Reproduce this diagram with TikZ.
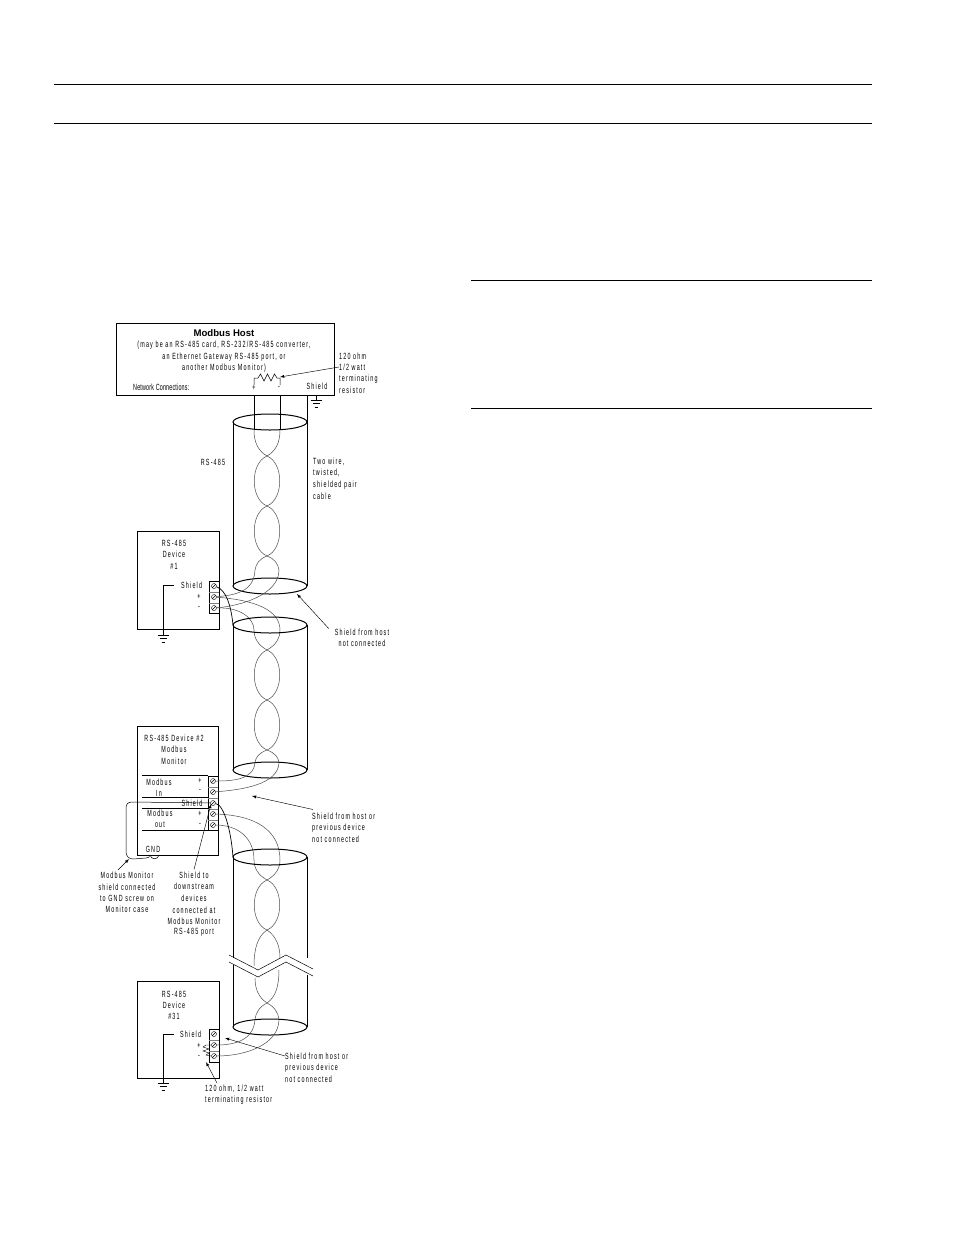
\documentclass[tikz,border=0pt]{standalone}
\usepackage{fontspec}
\setmainfont{Liberation Sans}[LetterSpace=13,FakeStretch=0.6]
\usetikzlibrary{arrows,calc}

\tikzset{
	box/.style={draw,line width=1pt,rectangle,outer sep=0pt,inner sep=0pt},
	txt/.style={inner sep=0pt,font=\fontsize{9}{10}\selectfont},
	ltxt/.style={txt,anchor=west},
	screw/.style={draw,circle,line width=0.4pt,inner sep=0pt,minimum size=5pt,
		path picture={\draw[line width=0.4pt] (path picture bounding box.south west) -- (path picture bounding box.north east);}},
	wire/.style={line width=0.5pt,black!70},
	hard/.style={line width=1pt},
	callout/.style={line width=0.45pt,-latex},
	rule/.style={line width=0.8pt}
}

% ground symbol at the end of a line
\newcommand{\gnd}[2]{
	\draw[line width=0.7pt] (#1-5.5,#2) -- (#1+5.5,#2);
	\draw[line width=0.7pt] (#1-3.5,#2+3.5) -- (#1+3.5,#2+3.5);
	\draw[line width=0.7pt] (#1-1.5,#2+7) -- (#1+1.5,#2+7);
}
% one twist of the pair
\newcommand{\twist}[2]{
	\draw[wire] (267,#1) .. controls (250,#1+7) and (250,#2-7) .. (267,#2);
	\draw[wire] (267,#1) .. controls (284,#1+7) and (284,#2-7) .. (267,#2);
}

\begin{document}
\begin{tikzpicture}[x=1pt,y=-1pt]
	\useasboundingbox (0,0) rectangle (954,1235);
	\fill[white] (0,0) rectangle (954,1235);

	\draw[rule] (54,84.5) -- (872,84.5);
	\draw[rule] (54,123.5) -- (872,123.5);
	\draw[rule] (471,280.5) -- (872,280.5);
	\draw[rule] (471,408.5) -- (872,408.5);

	% host
	\node[box,minimum width=218pt,minimum height=72pt] (host) at (225.5,359) {};
	\node[txt,font=\fontsize{9.6}{11}\bfseries\selectfont\addfontfeature{LetterSpace=0,FakeStretch=1}] (hosttitle) at (224,333) {Modbus Host};
	\node[txt] (hostline1) at (224,345) {(may be an RS-485 card, RS-232/RS-485 converter,};
	\node[txt] (hostline2) at (224,357) {an Ethernet Gateway RS-485 port, or};
	\node[txt] (hostline3) at (224,368) {another Modbus Monitor)};
	\node[ltxt,font=\fontsize{9}{10}\selectfont\addfontfeature{LetterSpace=2}] (netconn) at (133,387) {Network Connections:};
	\node[txt] (hostplus) at (254,388) {+};
	\node[txt] (hostminus) at (279,388) {-};
	\node[txt] (hostshield) at (317,386) {Shield};
	\coordinate (hostres) at (280,377);
	\draw[line width=0.5pt] (254,385) -- (254,378) -- (258,378) -- (260.5,374) -- (264,381) -- (267.5,374) -- (271,381) -- (274.5,374) -- (277,378) -- (280,378) -- (280,385);
	\draw[hard] (254,395) -- (254,430);
	\draw[hard] (280,395) -- (280,430);
	\draw[hard] (316,395) -- (316,400);
	\gnd{316}{400}
	\node[ltxt] (res1) at (339,356) {120 ohm};
	\node[ltxt] (res2) at (339,367) {1/2 watt};
	\node[ltxt] (res3) at (339,379) {terminating};
	\node[ltxt] (res4) at (339,390) {resistor};
	\draw[callout] (res2.west) -- (hostres);

	% first cable
	\draw[hard] (270,422) ellipse (37 and 8);
	\draw[hard] (233,422) -- (233,586);
	\draw[hard] (307,395) -- (307,586);
	\draw[hard] (270,586) ellipse (37 and 8);
	\draw[wire] (254,430) .. controls (254,442) and (258,451) .. (267,456);
	\draw[wire] (280,430) .. controls (280,442) and (276,451) .. (267,456);
	\twist{456}{506}
	\twist{506}{556}
	\node[txt] (rs) at (213,462) {RS-485};
	\node[ltxt] (cable1) at (313,462) {Two wire,};
	\node[ltxt] (cable2) at (313,473) {twisted,};
	\node[ltxt] (cable3) at (313,485) {shielded pair};
	\node[ltxt] (cable4) at (313,496) {cable};

	% device 1
	\node[box,minimum width=82pt,minimum height=98pt] (dev1) at (178,580) {};
	\node[txt] (dev1a) at (174,543) {RS-485};
	\node[txt] (dev1b) at (174,554) {Device};
	\node[txt] (dev1c) at (174,566) {\#1};
	\node[ltxt] (dev1s) at (181,585) {Shield};
	\node[txt] (dev1p) at (199,597) {+};
	\node[txt] (dev1m) at (199,608) {-};
	\node[box,minimum width=10pt,minimum height=32pt] (dev1block) at (214,597) {};
	\draw[line width=0.4pt,black!50] (209,592) -- (219,592) (209,603) -- (219,603);
	\node[screw] (t1s) at (214,586) {};
	\node[screw] (t1p) at (214,597) {};
	\node[screw] (t1m) at (214,608) {};
	\draw[line width=0.8pt] (dev1s.west) ++(-7,0) -- (163,585) -- (163,635);
	\gnd{163}{635}
	\draw[wire] (t1p) .. controls (235,595) and (254,592) .. (255,570) .. controls (256,564) and (259,559) .. (267,556);
	\draw[wire] (t1m) .. controls (240,606) and (279,595) .. (279,570) .. controls (278,564) and (275,559) .. (267,556);
	\draw[wire] (t1p) .. controls (255,600) and (280,610) .. (280,630) .. controls (280,638) and (276,645) .. (267,650);
	\draw[wire] (t1m) .. controls (240,607) and (254,618) .. (254,630) .. controls (254,638) and (258,645) .. (267,650);
	\draw[line width=0.7pt] (t1s) .. controls (226,590) and (231,605) .. (233,625);
	\node[txt] (nc1a) at (362,632) {Shield from host};
	\node[txt] (nc1b) at (362,643) {not connected};
	\coordinate (nc1tip) at (297,594);
	\draw[callout] (nc1a.north west) ++(-6,0) -- (nc1tip);

	% second cable
	\draw[hard] (270,625) ellipse (37 and 8);
	\draw[hard] (233,625) -- (233,770);
	\draw[hard] (307,625) -- (307,770);
	\draw[hard] (270,770) ellipse (37 and 8);
	\twist{650}{700}
	\twist{700}{750}

	% device 2
	\node[box,minimum width=81pt,minimum height=129pt] (dev2) at (177.5,790.5) {};
	\node[txt] (dev2a) at (174,738) {RS-485 Device \#2};
	\node[txt] (dev2b) at (174,749) {Modbus};
	\node[txt] (dev2c) at (174,761) {Monitor};
	\node[txt] (in1) at (159,782) {Modbus};
	\node[txt] (in2) at (159,793) {In};
	\node[txt] (dev2s) at (192,803) {Shield};
	\node[txt] (out1) at (160,813) {Modbus};
	\node[txt] (out2) at (160,825) {out};
	\node[txt] (inp) at (200,781) {+};
	\node[txt] (inm) at (200,791) {-};
	\node[txt] (outp) at (200,814) {+};
	\node[txt] (outm) at (200,825) {-};
	\node[txt] (gndtxt) at (153,849) {GND};
	\draw[line width=0.7pt] (142,775) -- (208,775) (142,797) -- (208,797) (142,808) -- (208,808) (142,830) -- (218,830);
	\node[box,minimum width=10pt,minimum height=54pt] (dev2block) at (213,803) {};
	\draw[line width=0.4pt,black!50] (208,787) -- (218,787) (208,798) -- (218,798) (208,809) -- (218,809) (208,820) -- (218,820);
	\node[screw] (t2a) at (213,781) {};
	\node[screw] (t2b) at (213,792) {};
	\node[screw] (t2s) at (213,803) {};
	\node[screw] (t2c) at (213,814) {};
	\node[screw] (t2d) at (213,825) {};
	\draw[wire] (t2a) .. controls (232,781) and (254,780) .. (255,762) .. controls (256,757) and (259,753) .. (267,750);
	\draw[wire] (t2b) .. controls (240,790) and (279,785) .. (279,762) .. controls (278,757) and (275,753) .. (267,750);
	\draw[wire] (t2c) .. controls (255,815) and (280,830) .. (280,860) .. controls (280,868) and (276,875) .. (267,880);
	\draw[wire] (t2d) .. controls (238,825) and (254,838) .. (254,860) .. controls (254,868) and (258,875) .. (267,880);
	\draw[line width=0.7pt] (t2s) .. controls (224,805) and (231,830) .. (233,857);
	% shield loop to the case screw
	\coordinate (gndscrew) at (150,855);
	\draw[line width=0.5pt] (t2s) -- (132,802) .. controls (128,802) and (126,804) .. (126,808) -- (126,852) .. controls (126,856) and (129,859) .. (133,859) -- (146,858) .. controls (148,858) and (150,857) .. (gndscrew) (150,855) .. controls (151,860) and (158,860) .. (159,855);
	\node[txt] (mon1) at (127,875) {Modbus Monitor};
	\node[txt] (mon2) at (127,887) {shield connected};
	\node[txt] (mon3) at (127,898) {to GND screw on};
	\node[txt] (mon4) at (127,909) {Monitor case};
	\coordinate (montail) at (118,870);
	\coordinate (monarrow) at (129,859);
	\draw[callout] (montail) -- (monarrow);
	\node[txt] (dn1) at (194,875) {Shield to};
	\node[txt] (dn2) at (194,886) {downstream};
	\node[txt] (dn3) at (194,898) {devices};
	\node[txt] (dn4) at (194,910) {connected at};
	\node[txt] (dn5) at (194,921) {Modbus Monitor};
	\node[txt] (dn6) at (194,932) {RS-485 port};
	\draw[callout] (dn1.north) ++(0,-2) -- (211,804);
	\node[ltxt] (nc2a) at (312,816) {Shield from host or};
	\node[ltxt] (nc2b) at (312,828) {previous device};
	\node[ltxt] (nc2c) at (312,839) {not connected};
	\coordinate (nc2tip) at (252,796);
	\draw[callout] (nc2a.north west) ++(1,-3) -- (nc2tip);

	% third cable with break
	\draw[hard] (270,857) ellipse (37 and 8);
	\draw[hard] (233,857) -- (233,958);
	\draw[hard] (307,857) -- (307,958);
	\draw[hard] (233,965) -- (233,1027);
	\draw[hard] (307,975) -- (307,1027);
	\twist{880}{930}
	\draw[wire] (267,930) .. controls (258,936) and (254,948) .. (254,966);
	\draw[wire] (267,930) .. controls (276,936) and (280,946) .. (280,958);
	\draw[line width=0.5pt] (229,955) -- (258,970) -- (286,955) -- (313,969);
	\draw[line width=0.5pt] (229,962) -- (258,977) -- (286,962) -- (313,976);
	\draw[wire] (255,978) .. controls (255,988) and (258,997) .. (267,1003);
	\draw[wire] (279,970) .. controls (279,985) and (276,997) .. (267,1003);
	\draw[hard] (270,1027) ellipse (37 and 8);

	% device 31
	\node[box,minimum width=82pt,minimum height=97pt] (dev3) at (178,1029.5) {};
	\node[txt] (dev3a) at (174,994) {RS-485};
	\node[txt] (dev3b) at (174,1005) {Device};
	\node[txt] (dev3c) at (174,1016) {\#31};
	\node[ltxt] (dev3s) at (180,1034) {Shield};
	\node[txt] (dev3p) at (199,1046) {+};
	\node[txt] (dev3m) at (199,1057) {-};
	\node[box,minimum width=10pt,minimum height=33pt] (dev3block) at (214,1045.5) {};
	\draw[line width=0.4pt,black!50] (209,1040) -- (219,1040) (209,1051) -- (219,1051);
	\node[screw] (t3s) at (214,1034) {};
	\node[screw] (t3p) at (214,1045) {};
	\node[screw] (t3m) at (214,1056) {};
	\draw[line width=0.8pt] (dev3s.west) ++(-6,0) -- (163,1034) -- (163,1083);
	\gnd{163}{1083}
	\draw[line width=0.4pt] (211,1045) -- (206,1045) -- (203,1047) -- (209,1049) -- (203,1051) -- (209,1053) -- (206,1055) -- (211,1056);
	\draw[wire] (t3p) .. controls (235,1045) and (254,1040) .. (255,1019) .. controls (256,1013) and (259,1007) .. (267,1003);
	\draw[wire] (t3m) .. controls (245,1056) and (279,1045) .. (279,1019) .. controls (278,1013) and (275,1007) .. (267,1003);
	\node[ltxt] (nc3a) at (285,1056) {Shield from host or};
	\node[ltxt] (nc3b) at (285,1068) {previous device};
	\node[ltxt] (nc3c) at (285,1079) {not connected};
	\draw[callout] (nc3a.west) -- (225,1038);
	\node[ltxt] (tr1) at (205,1089) {120 ohm, 1/2 watt};
	\node[ltxt] (tr2) at (205,1100) {terminating resistor};
	\draw[callout] (217,1083) -- (206,1062);
\end{tikzpicture}
\end{document}
